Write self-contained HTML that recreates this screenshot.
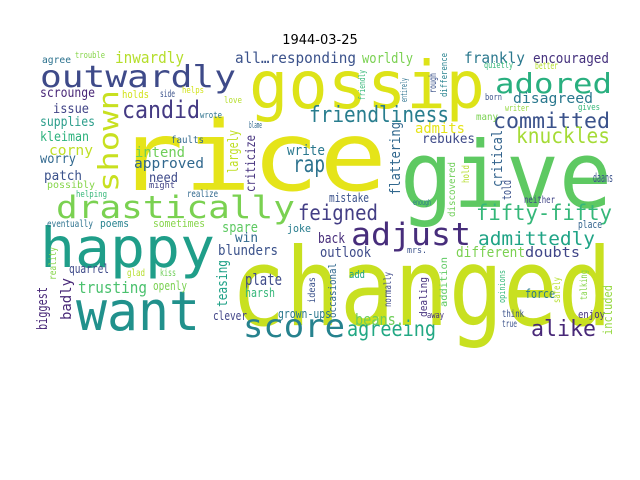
<!DOCTYPE html>
<html><head><meta charset="utf-8"><style>
html,body{margin:0;padding:0;background:#fff;width:640px;height:480px;overflow:hidden}
svg text{font-family:"DejaVu Sans Mono","Liberation Mono",monospace}
</style></head><body>
<svg width="640" height="480" viewBox="0 0 640 480">
<text x="320" y="44" text-anchor="middle" font-size="13" style="font-family:'DejaVu Sans',sans-serif" fill="#000">1944-03-25</text>
<g id="cloud"></g>
</svg>
<script>
const words = ["rice","changed","give","gossip","happy","want","outwardly","drastically","adored","adjust","score","agreeing","alike","shown","candid","friendliness","committed","knuckles","fifty-fifty","admittedly","feigned","rap","inwardly","all…responding","worldly","frankly","encouraged","scrounge","holds","side","issue","supplies","kleiman","corny","worry","patch","possibly","helping","intend","approved","need","might","faults","love","largely","criticize","write","flattering","admits","rebukes","disagreed","critical","mistake","realize","spare","win","joke","back","outlook","blunders","different","doubts","neither","place","eventually","poems","sometimes","quarrel","glad","kiss","trusting","openly","plate","harsh","clever","grown-ups","beans.","add","force","think","enjoy","true","teasing","badly","biggest","reality","occasional","ideas","normally","dealing","addition","discovered","hold","told","opinions","safely","talking","included","agree","trouble","friendly","entirely","rough","difference","quietly","better","born","writer","gives","many","mrs.","away","daans","enough","wrote","blame","helps"];
const xs = [116,231,400,249,40,76,40,56,495,351,243,347,531,118,122,309,493,516,476,478,298,293,115,235,362,464,533,40,122,160,53,40,40,49,40,44,47,76,135,134,149,149,171,224,238,255,287,400,415,422,513,502,329,187,222,235,287,318,320,218,456,525,524,578,47,100,153,69,127,160,78,153,245,245,213,278,355,349,525,502,578,502,227,71,47,56,336,315,391,427,447,455,469,511,505,560,587,612,42,75,365,407,436,447,484,535,485,505,578,476,407,427,593,413,200,249,182];
const ys = [190,325,207,108,267,330,87,218,93,245,337,336,336,192,118,122,128,143,220,245,220,172,63,63,63,63,63,97,98,97,113,126,141,155,163,180,188,197,157,168,182,188,143,103,173,192,155,195,133,143,103,187,202,197,232,242,232,243,257,255,257,257,203,228,227,227,227,273,276,276,293,290,285,297,320,318,325,278,298,317,318,327,307,320,330,280,318,303,307,317,307,217,183,200,303,303,300,335,63,58,100,102,93,97,68,69,100,111,110,120,253,318,182,205,118,128,93];
const sizes = [96,108,92,66,55,54,30,31,28,31,32,21,22,28,24,22,21,21,21,19,21,23,16,15,14,15,14,13,11,10,13,13,13,14,13,13,10,9,14,14,13,9,10,9,14,13,14,14,14,13,14,14,12,10,14,13,11,14,14,14,14,14,10,11,10,11,11,12,10,10,16,12,16,12,12,12,16,11,12,10,11,10,14,14,14,10,11,10,10,11,10,10,10,12,9,10,10,12,10,9,9,9,10,9,9,10,9,9,9,10,9,9,12,8,9,9,9];
const lens = [271,381,212,236,175,124,196,239,117,120,102,89,65,102,78,140,117,94,136,117,80,32,69,121,51,61,76,55,27,15,36,55,49,44,36,38,48,31,50,70,29,26,33,18,43,57,38,73,50,53,80,57,40,31,36,23,24,27,51,60,69,55,31,24,46,29,52,40,18,16,69,34,37,30,34,53,49,16,30,22,27,15,47,42,43,33,55,26,35,40,50,55,18,20,33,26,30,50,29,30,30,24,20,44,29,23,17,24,22,22,20,17,20,18,22,13,22];
const colors = ["#e5e419","#c8e020","#5ec962","#dde318","#1f9e89","#21918c","#3e4a89","#7ad151","#29af7f","#472d7b","#26828e","#22a884","#482878","#c8e020","#443a83","#287d8e","#3b528b","#a5db36","#35b779","#20a486","#433e85","#2c728e","#b5de2b","#3b528b","#7ad151","#2a788e","#46327e","#482677","#d2e21b","#3b528b","#414487","#2a9d8a","#2db27d","#c0df25","#31688e","#3b528b","#86d549","#35b779","#6ece58","#31688e","#3e4a89","#414487","#31688e","#b5de2b","#c0df25","#46337f","#2a788e","#31688e","#e5e419","#3e4a89","#2a788e","#33638d","#3b528b","#31688e","#5ec962","#31688e","#287d8e","#472d7b","#3e4a89","#3b528b","#7ad151","#404688","#414487","#33638d","#2c728e","#26828e","#86d549","#3e4a89","#b5de2b","#6ece58","#4ac16d","#7ad151","#3e4a89","#35b779","#414487","#2a788e","#6ece58","#20a486","#2a788e","#3b528b","#46327e","#3b528b","#1fa187","#482878","#482878","#86d549","#31688e","#3b528b","#3e4a89","#46327e","#5ec962","#6ece58","#b5de2b","#3b528b","#35b779","#b5de2b","#86d549","#95d840","#2c728e","#86d549","#35b779","#2c728e","#3b528b","#26828e","#35b779","#b5de2b","#3b528b","#95d840","#35b779","#7ad151","#3b528b","#46327e","#3b528b","#2a788e","#2c728e","#31688e","#d2e21b"];
const rots = [0,0,0,0,0,0,0,0,0,0,0,0,0,1,0,0,0,0,0,0,0,0,0,0,0,0,0,0,0,0,0,0,0,0,0,0,0,0,0,0,0,0,0,0,1,1,0,1,0,0,0,1,0,0,0,0,0,0,0,0,0,0,0,0,0,0,0,0,0,0,0,0,0,0,0,0,0,0,0,0,0,0,1,1,1,1,1,1,1,1,1,1,1,1,1,1,1,1,0,0,1,1,1,1,0,0,0,0,0,0,0,0,0,0,0,0,0];
const g = document.getElementById('cloud');
const NS = 'http://www.w3.org/2000/svg';
for (let i = 0; i < words.length; i++) {
  const t = document.createElementNS(NS, 'text');
  t.setAttribute('x', xs[i]);
  t.setAttribute('y', ys[i]);
  t.setAttribute('font-size', sizes[i]);
  t.setAttribute('fill', colors[i]);
  t.setAttribute('textLength', lens[i]);
  t.setAttribute('lengthAdjust', 'spacingAndGlyphs');
  if (rots[i]) t.setAttribute('transform', 'rotate(-90 ' + xs[i] + ' ' + ys[i] + ')');
  t.textContent = words[i];
  
  
  g.appendChild(t);
}
</script>
</body></html>
